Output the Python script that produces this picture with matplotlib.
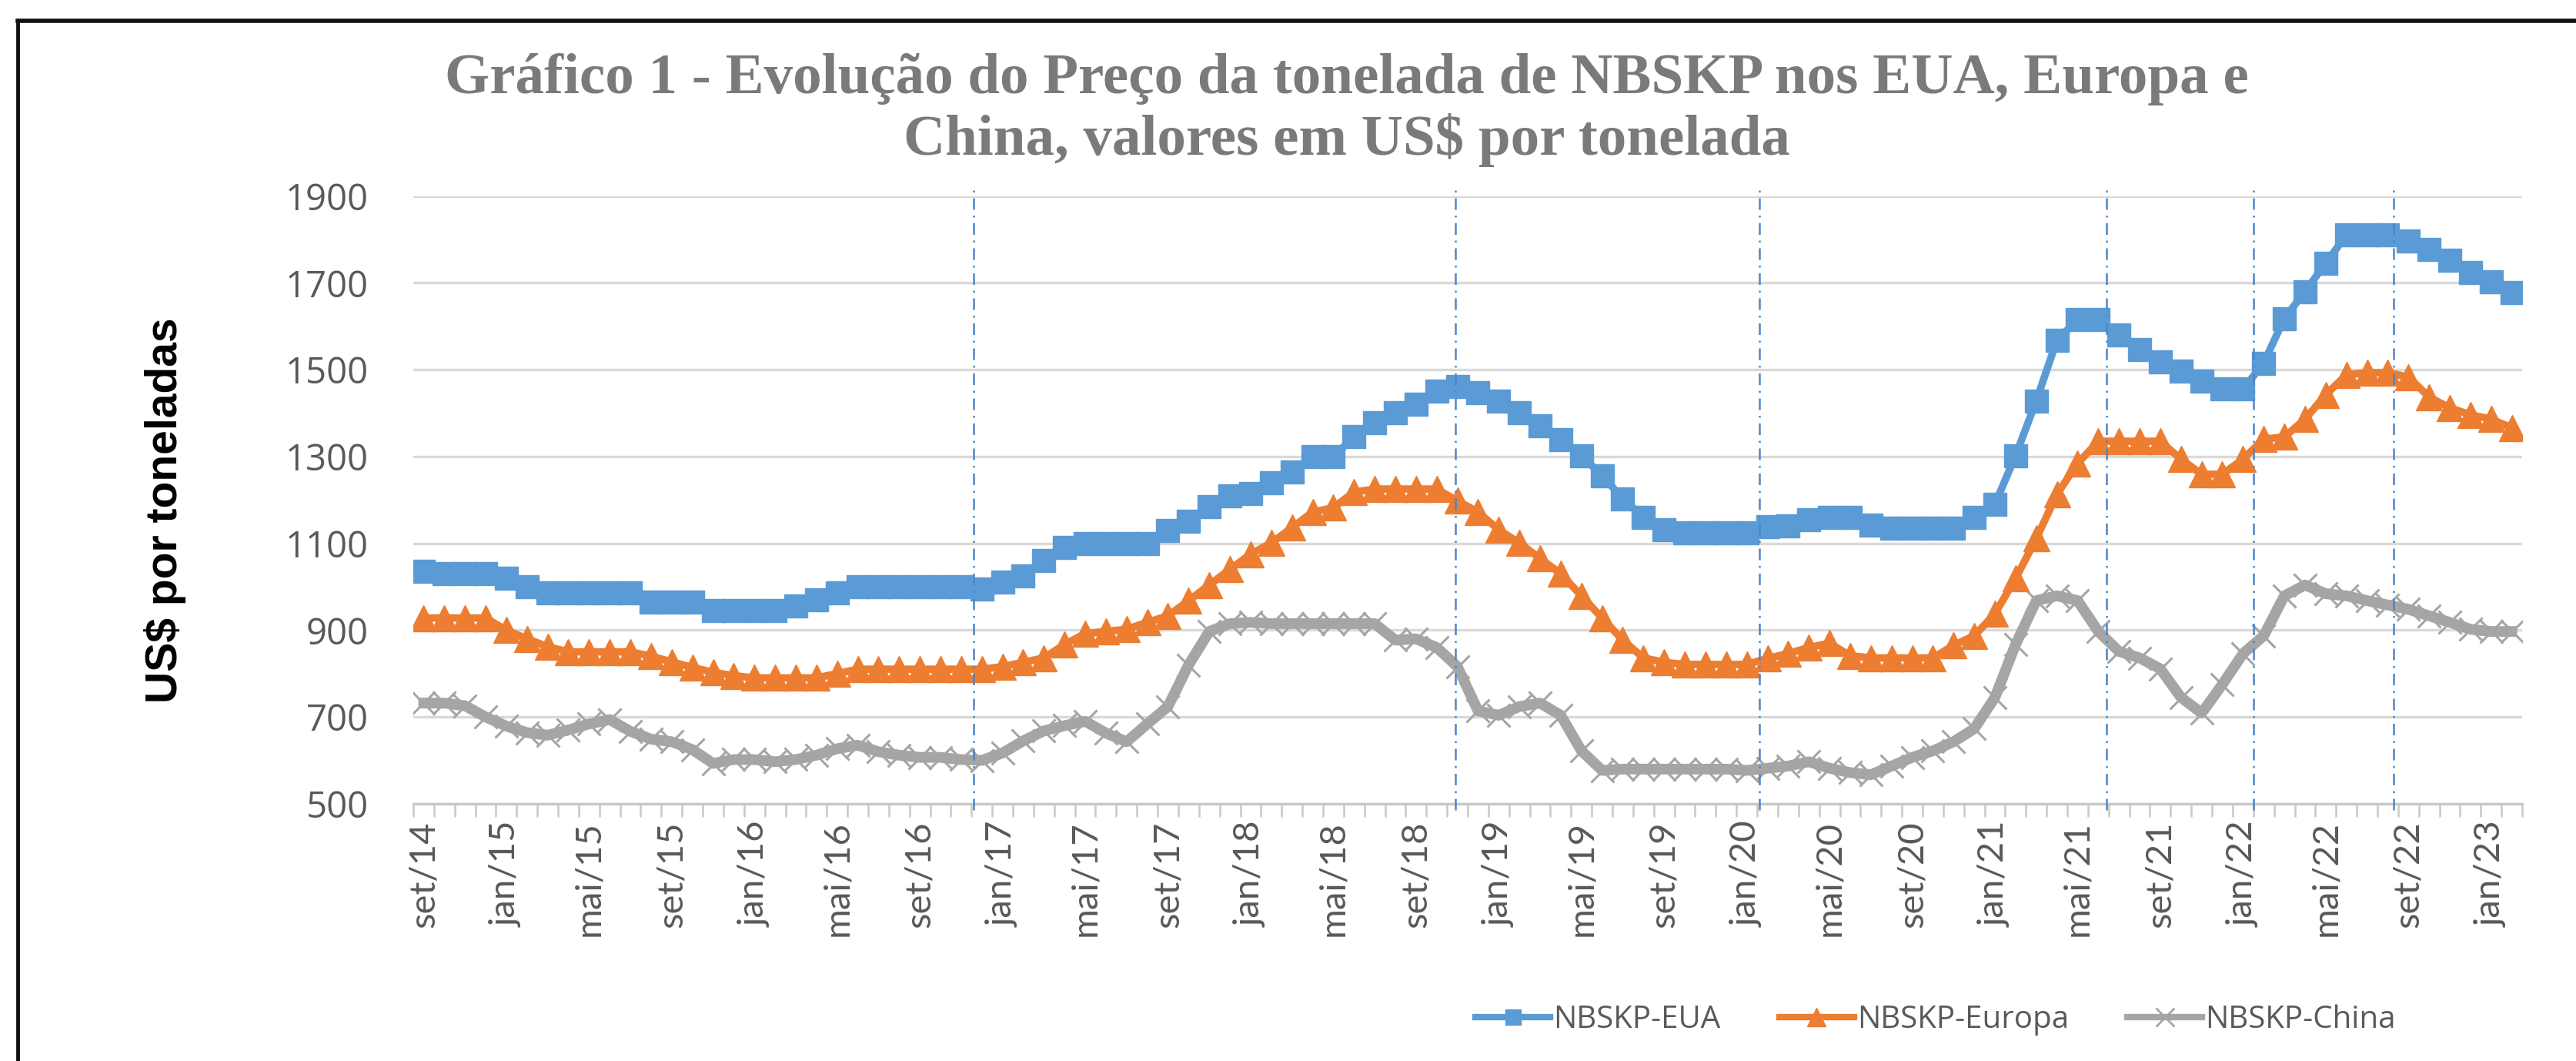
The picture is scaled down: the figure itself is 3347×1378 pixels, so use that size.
import matplotlib
matplotlib.use("Agg")
import matplotlib.pyplot as plt
from matplotlib.lines import Line2D
import numpy as np

# ---------------- data ----------------
months = ["jan", "fev", "mar", "abr", "mai", "jun", "jul", "ago", "set", "out", "nov", "dez"]
categories = []
m, y = 8, 14
for _ in range(102):
    categories.append(f"{months[m]}/{y:02d}")
    m += 1
    if m == 12:
        m, y = 0, y + 1

eua = [1035, 1030, 1030, 1030, 1020, 1000, 985, 985, 985, 985, 985, 965, 965, 965, 945, 945,
       945, 945, 955, 970, 985, 1000, 1000, 1000, 1000, 1000, 1000, 995, 1010, 1025, 1060, 1090,
       1100, 1100, 1100, 1100, 1130, 1150, 1185, 1210, 1215, 1240, 1265, 1300, 1300, 1345, 1378, 1400,
       1420, 1450, 1462, 1447, 1428, 1400, 1370, 1338, 1302, 1256, 1203, 1160, 1132, 1125, 1125, 1125,
       1125, 1138, 1140, 1155, 1160, 1160, 1142, 1135, 1135, 1135, 1135, 1160, 1190, 1302, 1428, 1568,
       1615, 1615, 1580, 1546, 1518, 1497, 1473, 1455, 1455, 1515, 1618, 1680, 1745, 1810, 1810, 1810,
       1797, 1776, 1752, 1724, 1703, 1678]

europa = [928, 928, 928, 928, 900, 880, 862, 850, 850, 850, 850, 840, 827, 814, 803, 795,
          790, 790, 790, 790, 800, 810, 810, 810, 810, 810, 810, 810, 816, 826, 836, 867,
          892, 897, 902, 918, 933, 968, 1004, 1040, 1075, 1101, 1136, 1172, 1182, 1218, 1225, 1225,
          1225, 1225, 1198, 1172, 1131, 1101, 1065, 1030, 979, 928, 877, 836, 826, 821, 821, 821,
          821, 835, 846, 860, 870, 841, 836, 836, 836, 836, 865, 887, 938, 1019, 1111, 1213,
          1284, 1335, 1335, 1335, 1335, 1294, 1259, 1259, 1294, 1340, 1345, 1386, 1442, 1488, 1493, 1493,
          1483, 1437, 1412, 1396, 1386, 1366]

china = [732, 732, 726, 700, 679, 664, 658, 670, 684, 694, 667, 649, 643, 625, 593, 602,
         602, 597, 602, 612, 627, 635, 620, 612, 607, 607, 602, 600, 617, 645, 668, 680,
         690, 663, 643, 684, 724, 820, 897, 915, 918, 915, 915, 915, 915, 915, 915, 877,
         880, 860, 816, 714, 704, 724, 732, 704, 622, 577, 580, 580, 580, 580, 580, 580,
         577, 582, 587, 597, 582, 572, 567, 587, 607, 622, 643, 673, 745, 867, 968, 979,
         968, 897, 851, 836, 811, 745, 709, 775, 846, 887, 979, 1004, 984, 979, 968, 958,
         948, 933, 918, 902, 897, 897]

series_names = ["NBSKP-EUA", "NBSKP-Europa", "NBSKP-China"]
yticks = [500, 700, 900, 1100, 1300, 1500, 1700, 1900]
# annotation lines (fractional category positions)
event_lines = [26.6, 49.9, 64.6, 81.4, 88.5, 95.3]

# ---------------- style ----------------
c_blue, c_orange, c_gray = "#5B9BD5", "#ED7D31", "#A5A5A5"
txt_gray = "#595959"

W, H = 3347, 1378
fig = plt.figure(figsize=(W / 100, H / 100), dpi=100)
fig.patch.set_facecolor("white")

x0, x1, ytop, ybot = 537, 3277, 254.5, 1044
ax = fig.add_axes([x0 / W, 1 - ybot / H, (x1 - x0) / W, (ybot - ytop) / H])

x = np.arange(len(categories))
ax.plot(x, eua, color=c_blue, lw=7, marker="s", ms=22, mec=c_blue, mfc=c_blue, zorder=5)
ax.plot(x, europa, color=c_orange, lw=7, marker="^", ms=24, mec=c_orange, mfc=c_orange, zorder=4)
ax.plot(x, china, color=c_gray, lw=10, marker="x", ms=22, mew=2.2, mec=c_gray, zorder=3)

for xv in event_lines:
    ax.plot([xv, xv], [485, 1915], color="#4A86C8", lw=1.8, dashes=(6, 3, 1, 3),
            zorder=6, clip_on=False)

ax.set_xlim(-0.5, len(categories) - 0.5)
ax.set_ylim(500, 1900)
ax.set_yticks(yticks)
ax.set_yticklabels([str(v) for v in yticks], fontsize=34, color=txt_gray, family="Open Sans")
ax.tick_params(axis="y", length=0, pad=42)
ax.yaxis.grid(True, color="#D9D9D9", lw=2.4)
ax.set_axisbelow(True)

lab_idx = list(range(0, len(categories), 4))
ax.set_xticks(lab_idx)
ax.set_xticklabels([categories[i] for i in lab_idx], rotation=90, fontsize=34,
                   color=txt_gray, family="Lato")
ax.set_xticks(np.arange(-0.5, len(categories), 1), minor=True)
ax.tick_params(axis="x", which="major", length=0, pad=16)
ax.tick_params(axis="x", which="minor", length=12, width=1.8, color="#C8C8C8")

for s in ["top", "right", "left"]:
    ax.spines[s].set_visible(False)
ax.spines["bottom"].set_color("#C8C8C8")
ax.spines["bottom"].set_linewidth(2.4)

fig.text(215 / W, 1 - 663 / H, "US$ por toneladas", rotation=90, ha="center", va="center",
         fontsize=41, fontweight="bold", color="black", family="Liberation Sans")

fig.text(1750 / W, 1 - 143 / H,
         "Gráfico 1 - Evolução do Preço da tonelada de NBSKP nos EUA, Europa e\nChina, valores em US$ por tonelada",
         ha="center", va="center", fontsize=54, fontweight="bold", color="#7A7A7A",
         family="Liberation Serif", linespacing=1.18)

handles = [
    Line2D([], [], color=c_blue, lw=6, marker="s", ms=15),
    Line2D([], [], color=c_orange, lw=6, marker="^", ms=17),
    Line2D([], [], color=c_gray, lw=6, marker="x", ms=17, mew=2),
]
leg = fig.legend(handles, series_names, loc="center", bbox_to_anchor=(2515 / W, 1 - 1325 / H),
                 ncol=3, frameon=False, handlelength=2.4, columnspacing=1.9, handletextpad=0.1,
                 prop={"family": "Open Sans", "size": 29})
for t in leg.get_texts():
    t.set_color(txt_gray)

# frame lines (left and top)
fig.add_artist(Line2D([23 / W, 23 / W], [0, 1 - 27 / H], color="#111111", lw=3.5,
                      transform=fig.transFigure))
fig.add_artist(Line2D([23 / W, 1], [1 - 27 / H, 1 - 27 / H], color="#111111", lw=4,
                      transform=fig.transFigure))

fig.savefig("out.png", dpi=100, facecolor="white")
